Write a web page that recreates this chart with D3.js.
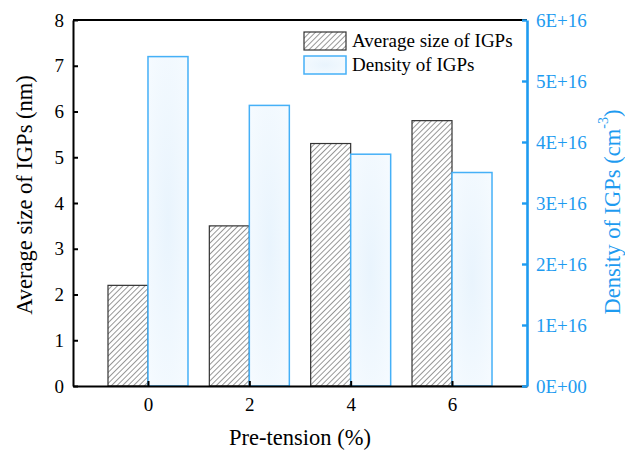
<!DOCTYPE html>
<html>
<head>
<meta charset="utf-8">
<script src="https://cdn.jsdelivr.net/npm/d3@7"></script>
<style>
  body { margin: 0; background: #fff; }
  svg { display: block; font-family: "Liberation Serif", "Times New Roman", serif; }
</style>
</head>
<body>
<div id="chart"></div>
<script>
// data
const tensions = [0, 2, 4, 6];
const avgSize = [2.2, 3.5, 5.3, 5.8];          // nm
const density = [5.4e16, 4.6e16, 3.8e16, 3.5e16]; // cm^-3
const leftTicks = [0, 1, 2, 3, 4, 5, 6, 7, 8];
const rightTicks = [0, 1e16, 2e16, 3e16, 4e16, 5e16, 6e16];
const legendNames = ["Average size of IGPs", "Density of IGPs"];

const width = 625, height = 450;
const margin = {top: 20, right: 98, bottom: 64, left: 73};
const blue = "#1e9bf0";
const barStroke = "#45b0f7";

const svg = d3.select("#chart")
  .append("svg")
  .attr("width", width)
  .attr("height", height);

const defs = svg.append("defs");
// hatch for the size bars
const hatch = defs.append("pattern")
  .attr("id", "hatch")
  .attr("patternUnits", "userSpaceOnUse")
  .attr("width", 3.9)
  .attr("height", 3.9)
  .attr("patternTransform", "rotate(45)");
hatch.append("rect").attr("width", 3.9).attr("height", 3.9).attr("fill", "#fff");
hatch.append("line")
  .attr("x1", 0).attr("y1", 0).attr("x2", 0).attr("y2", 3.9)
  .attr("stroke", "#444").attr("stroke-width", 1.1);
// soft blue fill for density bars
const grad = defs.append("radialGradient")
  .attr("id", "pale")
  .attr("cx", "50%").attr("cy", "50%").attr("r", "70%");
grad.append("stop").attr("offset", "0%").attr("stop-color", "#e9f4fd");
grad.append("stop").attr("offset", "100%").attr("stop-color", "#f6fbff");

const x0 = margin.left, x1 = width - margin.right;
const y0 = height - margin.bottom, y1 = margin.top;

const xScale = d3.scalePoint()
  .domain(tensions)
  .range([x0, x1])
  .padding(0.74);
const yLeft = d3.scaleLinear().domain([0, 8]).range([y0, y1]);
const yRight = d3.scaleLinear().domain([0, 6e16]).range([y0, y1]);
const barW = 40;

// bars
const g = svg.append("g");
g.selectAll(".size-bar")
  .data(tensions)
  .enter()
  .append("rect")
  .classed("size-bar", true)
  .attr("x", (d) => xScale(d) - barW)
  .attr("y", (d, i) => yLeft(avgSize[i]))
  .attr("width", barW)
  .attr("height", (d, i) => yLeft(0) - yLeft(avgSize[i]))
  .attr("fill", "url(#hatch)")
  .attr("stroke", "#333")
  .attr("stroke-width", 1.2);
g.selectAll(".dens-bar")
  .data(tensions)
  .enter()
  .append("rect")
  .classed("dens-bar", true)
  .attr("x", (d) => xScale(d))
  .attr("y", (d, i) => yRight(density[i]))
  .attr("width", barW)
  .attr("height", (d, i) => yRight(0) - yRight(density[i]))
  .attr("fill", "url(#pale)")
  .attr("stroke", barStroke)
  .attr("stroke-width", 1.5);

// top frame line
svg.append("line")
  .attr("x1", x0).attr("x2", x1)
  .attr("y1", y1).attr("y2", y1)
  .attr("stroke", "#000").attr("stroke-width", 2);

// bottom axis
const axB = svg.append("g")
  .attr("transform", "translate(0," + y0 + ")")
  .call(d3.axisBottom(xScale).tickSize(-5).tickSizeOuter(0).tickPadding(12));
axB.select(".domain").attr("stroke", "#000").attr("stroke-width", 2);
axB.selectAll(".tick line").attr("stroke", "#000").attr("stroke-width", 2);
axB.selectAll(".tick text")
  .attr("font-size", "19px")
  .attr("font-family", "Liberation Serif")
  .attr("fill", "#000");

// left axis
const axL = svg.append("g")
  .attr("transform", "translate(" + x0 + ",0)")
  .call(d3.axisLeft(yLeft).tickValues(leftTicks).tickSize(-5).tickSizeOuter(0).tickPadding(9));
axL.select(".domain").attr("stroke", "#000").attr("stroke-width", 2);
axL.selectAll(".tick line").attr("stroke", "#000").attr("stroke-width", 2);
axL.selectAll(".tick text")
  .attr("font-size", "19px")
  .attr("font-family", "Liberation Serif")
  .attr("fill", "#000");

// right axis
const fmt = (v) => {
  const e = v === 0 ? 0 : Math.floor(Math.log10(v));
  const m = v === 0 ? 0 : Math.round(v / Math.pow(10, e));
  return m + "E+" + String(e).padStart(2, "0");
};
const axR = svg.append("g")
  .attr("transform", "translate(" + x1 + ",0)")
  .call(d3.axisRight(yRight).tickValues(rightTicks).tickFormat(fmt).tickSize(-5).tickSizeOuter(0).tickPadding(9));
axR.select(".domain").attr("stroke", blue).attr("stroke-width", 2.6);
axR.selectAll(".tick line").attr("stroke", blue).attr("stroke-width", 2.4);
axR.selectAll(".tick text")
  .attr("font-size", "19px")
  .attr("font-family", "Liberation Serif")
  .attr("fill", blue);

// axis titles
svg.append("text")
  .attr("transform", "translate(24," + ((y0 + y1) / 2 - 8) + ") rotate(-90)")
  .attr("text-anchor", "middle")
  .attr("dominant-baseline", "central")
  .attr("font-size", "22.5px")
  .text("Average size of IGPs (nm)");

const rt = svg.append("text")
  .attr("transform", "translate(612," + ((y0 + y1) / 2 + 9) + ") rotate(-90)")
  .attr("text-anchor", "middle")
  .attr("dominant-baseline", "central")
  .attr("font-size", "22.5px")
  .attr("fill", blue);
rt.append("tspan").text("Density of IGPs (cm");
rt.append("tspan").attr("dy", -9).attr("font-size", "14px").text("-3");
rt.append("tspan").attr("dy", 9).text(")");

svg.append("text")
  .attr("x", (x0 + x1) / 2)
  .attr("y", 445)
  .attr("text-anchor", "middle")
  .attr("font-size", "22.5px")
  .text("Pre-tension (%)");

// legend
const legend = svg.append("g").attr("transform", "translate(304,32)");
const items = legend.selectAll("g")
  .data(legendNames)
  .enter()
  .append("g")
  .attr("transform", (d, i) => "translate(0," + i * 24 + ")");
items.append("rect")
  .attr("width", 42)
  .attr("height", 18)
  .attr("fill", (d, i) => i === 0 ? "url(#hatch)" : "url(#pale)")
  .attr("stroke", (d, i) => i === 0 ? "#333" : barStroke)
  .attr("stroke-width", (d, i) => i === 0 ? 1.2 : 1.5);
items.append("text")
  .attr("x", 48)
  .attr("y", 15)
  .attr("font-size", "19px")
  .text((d) => d);
</script>
</body>
</html>
